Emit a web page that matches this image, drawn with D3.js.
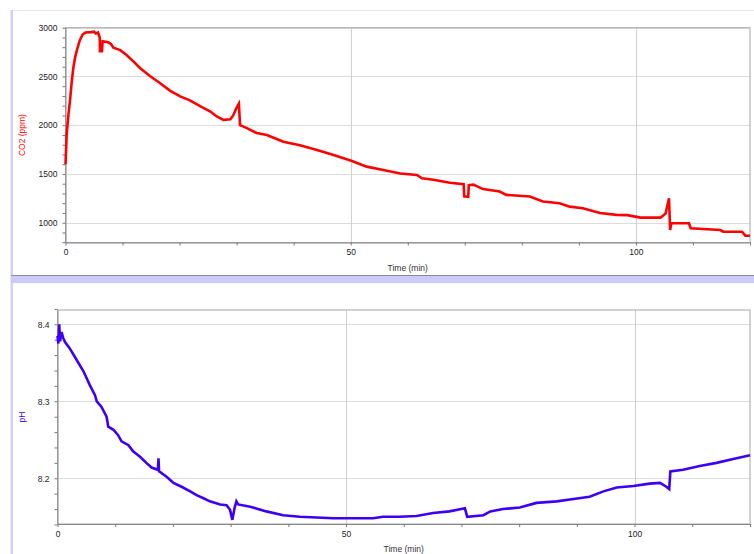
<!DOCTYPE html>
<html lang="en">

<head>
    <meta charset="UTF-8">
    <title>CO2 and pH</title>
    <style>
        body { margin: 0; background: #fff; }
        text { font-family: "Liberation Sans", Arial, sans-serif; }
    </style>
</head>

<body>
    <div id="my_dataviz"></div>
    <script src="https://d3js.org/d3.v7.min.js"></script>
    <script>

        // data
        var co2Time = [0, 0.2, 0.5, 0.8, 1.1, 1.4, 1.7, 2.0, 2.5, 3.0, 3.5, 4.5, 5.0, 5.3, 5.7, 6.0, 6.05, 6.4, 6.5, 7.5,
            8.0, 8.4, 9.6, 10.7, 11.9, 13.1, 14.8, 16.6, 18.3, 20.1, 21.8, 23.6, 25.4, 26.5, 27.7, 28.9, 29.4, 30.0, 30.4, 30.6,
            31.8, 33.5, 35.3, 38.2, 41.1, 44.1, 47.0, 50.1, 52.8, 55.7, 58.7, 61.6, 62.5, 64.5, 67.4, 69.8, 69.9, 70.6, 70.7, 71.5,
            73.2, 76.1, 77.3, 81.4, 83.7, 86.6, 88.4, 90.7, 93.7, 96.6, 98.5, 100.8, 104.3, 105.2, 105.8, 106.0, 106.2, 109.3, 109.6, 114.8,
            115.3, 118.6, 119.2, 120];
        var co2Value = [1600, 1900, 2100, 2260, 2450, 2600, 2700, 2770, 2870, 2930, 2950, 2955, 2960, 2940, 2950, 2900, 2760, 2760, 2860, 2850,
            2830, 2795, 2770, 2720, 2655, 2585, 2505, 2430, 2355, 2295, 2255, 2195, 2140, 2090, 2055, 2060, 2100, 2180, 2220, 2000,
            1970, 1920, 1900, 1830, 1795, 1745, 1695, 1635, 1575, 1540, 1505, 1490, 1455, 1440, 1410, 1395, 1270, 1265, 1385, 1390,
            1345, 1320, 1285, 1268, 1218, 1200, 1165, 1148, 1100, 1080, 1078, 1052, 1052, 1095, 1250, 925, 995, 994, 943, 925,
            908, 908, 867, 867];

        var phTime = [0, 0.15, 0.3, 0.45, 0.7, 1.0, 1.3, 2.1, 3.3, 4.5, 5.6, 6.5, 6.8, 7.6, 8.5, 8.8, 9.7, 10.5, 11.1, 12.3,
            13.1, 14.3, 15.4, 16.3, 17.4, 17.5, 17.6, 18.9, 20.1, 21.5, 23.0, 24.1, 25.3, 26.4, 28.2, 29.3, 29.9, 30.3, 30.7, 31.0,
            31.3, 33.4, 36.2, 39.1, 42.0, 44.9, 47.8, 54.7, 56.4, 59.3, 62.2, 65.1, 67.9, 70.6, 71.0, 73.8, 75.0, 77.2, 80.1, 83.0,
            86.5, 89.4, 92.2, 94.6, 96.9, 99.8, 102.6, 104.4, 105.5, 106.0, 106.2, 108.4, 111.3, 114.2, 117.1, 120];
        var phValue = [8.385, 8.375, 8.400, 8.378, 8.390, 8.382, 8.377, 8.369, 8.354, 8.339, 8.321, 8.308, 8.300, 8.293, 8.280, 8.267, 8.263, 8.256, 8.248, 8.243,
            8.235, 8.228, 8.220, 8.214, 8.211, 8.226, 8.209, 8.202, 8.194, 8.189, 8.183, 8.178, 8.174, 8.170, 8.166, 8.165, 8.159, 8.146, 8.162, 8.170,
            8.166, 8.163, 8.157, 8.152, 8.150, 8.149, 8.148, 8.148, 8.150, 8.150, 8.151, 8.155, 8.157, 8.161, 8.150, 8.152, 8.157, 8.160, 8.162, 8.168,
            8.170, 8.173, 8.176, 8.183, 8.188, 8.190, 8.193, 8.194, 8.189, 8.186, 8.209, 8.211, 8.216, 8.220, 8.225, 8.230];

        // tick labels
        var timeTicks = [0, 50, 100];
        var co2Ticks = [1000, 1500, 2000, 2500, 3000];
        var phTicks = [8.2, 8.3, 8.4];

        var width = 754, height = 554;

        var svg = d3.select("#my_dataviz")
            .append("svg")
            .attr("width", width)
            .attr("height", height);

        // window chrome: left border, top line, separator band
        svg.append("line")
            .attr("x1", 13).attr("x2", width).attr("y1", 10.5).attr("y2", 10.5)
            .attr("stroke", "#e6e6e6");
        svg.append("rect")
            .attr("x", 10.5).attr("y", 10).attr("width", 2.5).attr("height", height - 10)
            .attr("fill", "#d2d0fb");
        svg.append("line")
            .attr("x1", 11).attr("x2", width).attr("y1", 275.5).attr("y2", 275.5)
            .attr("stroke", "#8c8c8c");
        svg.append("rect")
            .attr("x", 11).attr("y", 276).attr("width", width - 11).attr("height", 7)
            .attr("fill", "#ccc9fb");

        function drawPanel(p) {
            var x = d3.scaleLinear().domain([0, 120]).range([p.left, p.right]);
            var y = d3.scaleLinear().domain(p.yDomain).range([p.bottom, p.top]);
            var g = svg.append("g");

            // grid
            g.selectAll(".hgrid")
                .data(p.yTicks)
                .enter()
                .append("line")
                .attr("x1", p.left).attr("x2", p.right)
                .attr("y1", function (d) { return Math.round(y(d)) + 0.5; })
                .attr("y2", function (d) { return Math.round(y(d)) + 0.5; })
                .attr("stroke", "#dcdcdc");
            g.selectAll(".vgrid")
                .data(timeTicks.slice(1))
                .enter()
                .append("line")
                .attr("y1", p.top).attr("y2", p.bottom)
                .attr("x1", function (d) { return Math.round(x(d)) + 0.5; })
                .attr("x2", function (d) { return Math.round(x(d)) + 0.5; })
                .attr("stroke", "#d0d0d0");

            // frame
            g.append("rect")
                .attr("x", p.left).attr("y", p.top)
                .attr("width", p.right - p.left).attr("height", p.bottom - p.top)
                .attr("fill", "none")
                .attr("stroke", "#a6a6a6");

            // X axis: minor ticks every 10 min, labels at 0/50/100
            var xAxis = g.append("g")
                .attr("transform", "translate(0," + p.bottom + ")")
                .call(d3.axisBottom(x).tickValues(d3.range(0, 121, 10)).tickSize(3).tickSizeOuter(0)
                    .tickFormat(function (d) { return timeTicks.indexOf(d) >= 0 ? d : ""; }));
            xAxis.select(".domain").attr("stroke", "#888");
            xAxis.selectAll(".tick line").attr("stroke", "#777");
            xAxis.selectAll("text").attr("font-size", "8.5px").attr("fill", "#222").attr("dy", "0.9em").attr("y", 5);

            // Y axis: minor ticks, labelled majors
            var yAxis = g.append("g")
                .attr("transform", "translate(" + p.left + ",0)")
                .call(d3.axisLeft(y).tickValues(p.yMinor).tickSize(3).tickSizeOuter(0)
                    .tickFormat(function (d) {
                        var hit = p.yTicks.filter(function (t) { return Math.abs(t - d) < 1e-6; });
                        return hit.length ? p.fmt(hit[0]) : "";
                    }));
            yAxis.select(".domain").attr("stroke", "#888");
            yAxis.selectAll(".tick line").attr("stroke", "#777");
            yAxis.selectAll("text").attr("font-size", "8.5px").attr("fill", "#222").attr("x", -8);

            // axis titles
            g.append("text")
                .attr("x", (p.left + p.right) / 2)
                .attr("y", p.bottom + 28)
                .attr("text-anchor", "middle")
                .attr("font-size", "8.5px")
                .attr("fill", "#333")
                .text("Time (min)");
            g.append("text")
                .attr("transform", "translate(25," + ((p.top + p.bottom) / 2) + ")rotate(-90)")
                .attr("text-anchor", "middle")
                .attr("font-size", "8.5px")
                .attr("fill", p.color)
                .text(p.label);

            // the trace
            var pts = p.t.map(function (d, i) { return [d, p.v[i]]; });
            g.append("path")
                .datum(pts)
                .attr("fill", "none")
                .attr("stroke", p.color)
                .attr("stroke-width", 2.6)
                .attr("stroke-linejoin", "miter")
                .attr("d", d3.line()
                    .x(function (d) { return x(d[0]); })
                    .y(function (d) { return y(d[1]); }));
        }

        drawPanel({
            left: 65.5, right: 750, top: 27.7, bottom: 242.5,
            yDomain: [797, 3000],
            yTicks: co2Ticks,
            yMinor: d3.range(800, 3001, 100),
            fmt: function (d) { return d; },
            t: co2Time, v: co2Value,
            color: "#ff0000",
            label: "CO2 (ppm)"
        });

        drawPanel({
            left: 57.5, right: 750, top: 310, bottom: 524,
            yDomain: [8.1406, 8.4186],
            yTicks: phTicks,
            yMinor: d3.range(8.14, 8.4201, 0.02).map(function (d) { return +d.toFixed(2); }),
            fmt: function (d) { return d.toFixed(1); },
            t: phTime, v: phValue,
            color: "#3d00f5",
            label: "pH"
        });

    </script>
</body>

</html>
